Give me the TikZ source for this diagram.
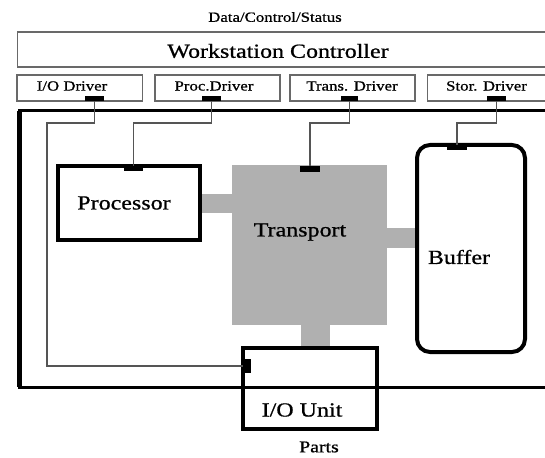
\documentclass[tikz,border=0pt]{standalone}
\usepackage{fontspec}
\setmainfont{Liberation Serif}[FakeStretch=1.2, FakeBold=0.8]
\usetikzlibrary{calc}
\definecolor{flowgray}{RGB}{176,176,176}
\definecolor{wiregray}{RGB}{85,85,85}
\definecolor{edgegray}{RGB}{105,105,105}
\tikzset{
  ctrlbox/.style={draw=edgegray, line width=1.3pt, inner sep=0pt},
  unitbox/.style={draw=black, line width=3.5pt, inner sep=0pt},
  port/.style={fill=black, draw=none, inner sep=0pt},
  wire/.style={draw=wiregray, line width=1.2pt},
  flow/.style={fill=flowgray, draw=none},
  lbl/.style={inner sep=0pt, text=black},
  small/.style={lbl, font=\fontsize{14}{16}\selectfont},
  big/.style={lbl, font=\fontsize{20}{24}\selectfont},
}
\begin{document}
\begin{tikzpicture}[x=1pt, y=-1pt]
\useasboundingbox (0,0) rectangle (545,457);
\clip (0,0) rectangle (545,457);

% workstation controller and its drivers
\node[small] (dcs) at (275,17) {Data/Control/Status};
\node[ctrlbox, minimum width=542.6, minimum height=35] (wc) at (288.7,49.5) {};
\node[big] (wctext) at (278,51) {Workstation Controller};

\node[ctrlbox, minimum width=125.5, minimum height=26] (iodrv) at (79.75,88) {};
\node[ctrlbox, minimum width=125, minimum height=26] (procdrv) at (217.5,88) {};
\node[ctrlbox, minimum width=125, minimum height=26] (transdrv) at (352.5,88) {};
\node[ctrlbox, minimum width=140, minimum height=26] (stordrv) at (497.5,88) {};
\node[small] (iodrvtext) at (72,86) {I/O Driver};
\node[small] (procdrvtext) at (214,86) {Proc.Driver};
\node[small] (transdrvtext) at (352,86) {Trans. Driver};
\node[small] (stordrvtext) at (486.5,86) {Stor. Driver};

\node[port, minimum width=19, minimum height=5] (iodp) at (94.5,98.5) {};
\node[port, minimum width=19, minimum height=5] (pdp) at (211.5,98.5) {};
\node[port, minimum width=17, minimum height=5] (tdp) at (349.5,98.5) {};
\node[port, minimum width=19, minimum height=5] (sdp) at (496.5,98.5) {};

% workstation units
\node[flow, minimum width=155, minimum height=160, inner sep=0pt] (transport) at (309.5,245) {};
\node[unitbox, minimum width=142, minimum height=74] (proc) at (129,203) {};
\node[unitbox, line width=4pt, rounded corners=13pt, minimum width=108, minimum height=207] (buffer) at (471,248.5) {};
\node[unitbox, minimum width=134, minimum height=81] (iounit) at (310,388.5) {};

% material flow between units
\path[flow] (proc.east |- 0,194) rectangle (transport.west |- 0,213);
\path[flow] (transport.east |- 0,228) rectangle (buffer.west |- 0,248);
\path[flow] (300.6,0 |- transport.south) rectangle (329.5,0 |- iounit.north);

% unit ports
\node[port, minimum width=19, minimum height=5] (prp) at (133.5,168.5) {};
\node[port, minimum width=20, minimum height=6] (trp) at (310,169) {};
\node[port, minimum width=20, minimum height=5] (bup) at (457,147.5) {};
\node[port, minimum width=8, minimum height=14] (iop) at (247,366) {};

% workstation boundary
\coordinate (fnw) at (19.5,111);
\coordinate (fse) at (575,387);
\draw[black, line width=3pt] (fnw) rectangle (fse);
\draw[black, line width=5pt] (fnw) -- (fnw |- fse);

% driver wiring
\coordinate (iobend) at (47,123);
\coordinate (pbend) at (133.5,123);
\coordinate (tbend) at (310,123);
\coordinate (sbend) at (457,123);
\draw[wire] (iodp.south) |- (iobend) |- (iop.west);
\draw[wire] (pdp.south) |- (pbend) -- (prp.north);
\draw[wire] (tdp.south) |- (tbend) -- (trp.north);
\draw[wire] (sdp.south) |- (sbend) -- (bup.north);

% labels
\node[big] (proctext) at (124,203) {Processor};
\node[big] (transtext) at (300,232) {Transport};
\node[big] (buftext) at (459,257) {Buffer};
\node[big] (iotext) at (302,410) {I/O Unit};
\node[lbl, font=\fontsize{16.5}{19}\selectfont] (parts) at (319,447) {Parts};
\end{tikzpicture}
\end{document}
